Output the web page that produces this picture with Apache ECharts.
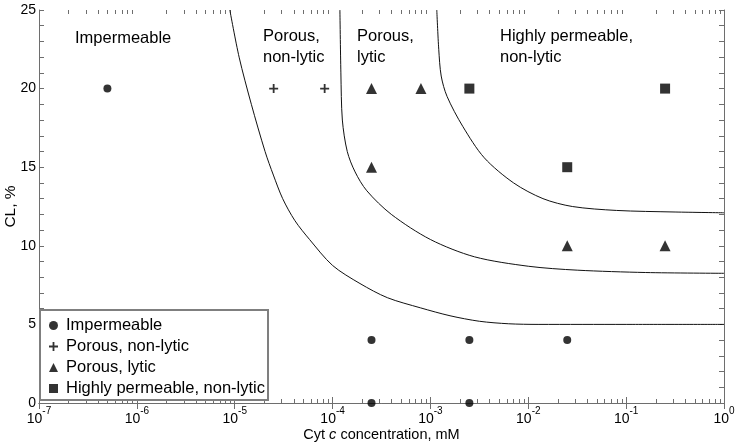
<!DOCTYPE html>
<html>
<head>
<meta charset="utf-8">
<script src="https://cdn.jsdelivr.net/npm/echarts@6/dist/echarts.min.js"></script>
<style>
html,body{margin:0;padding:0;background:#fff;}
#chart{width:739px;height:445px;}
</style>
</head>
<body>
<div id="chart"></div>
<script>
// measured points: [Cyt c concentration (mM), CL (%)]
var impermeable = [[5e-7,20],[2.5e-4,4],[2.5e-3,4],[2.5e-2,4],[2.5e-4,0],[2.5e-3,0]];
var porousNonLytic = [[2.5e-5,20],[8.3e-5,20]];
var porousLytic = [[2.5e-4,20],[8e-4,20],[2.5e-4,15],[2.5e-2,10],[2.5e-1,10]];
var highlyPermeable = [[2.5e-3,20],[2.5e-1,20],[2.5e-2,15]];

// boundary curves: [log10 of concentration, CL %]
var boundary1 = [[-5.05,25],[-4.955,22],[-4.83,19],[-4.69,16],[-4.605,14.5],[-4.51,13],[-4.385,11.6],[-4.235,10.4],[-4.0,8.75],[-3.72,7.6],[-3.44,6.7],[-3.1,6.05],[-2.8,5.55],[-2.5,5.2],[-2.2,5.04],[-1.9,5.0],[-1,5.0],[0,5.0]];
var boundary2 = [[-3.925,25],[-3.915,21],[-3.9,18],[-3.85,16],[-3.77,14.7],[-3.65,13.5],[-3.4,12],[-3.0,10.4],[-2.55,9.3],[-2.0,8.7],[-1.5,8.45],[-0.8,8.3],[0,8.25]];
var boundary3 = [[-2.935,25],[-2.915,22.5],[-2.89,20.8],[-2.83,19.5],[-2.67,17.6],[-2.45,15.6],[-2.15,14.0],[-1.85,13.0],[-1.55,12.5],[-1.1,12.25],[-0.5,12.15],[0,12.1]];

var legendNames = ['Impermeable','Porous, non-lytic','Porous, lytic','Highly permeable, non-lytic'];
var plusIcon = 'path://M4,0h2v4h4v2h-4v4h-2v-4h-4v-2h4z';

// minor log ticks 2..9 per decade
var minorTicks = [];
for (var e = -7; e < 0; e++) {
    for (var k = 2; k <= 9; k++) {
        minorTicks.push([k * Math.pow(10, e), 0]);
    }
}

function curve(arr){
    return arr.map(function(p){ return [Math.pow(10, p[0]), p[1]]; });
}
function lineSeries(arr){
    return {
        type: 'line',
        data: curve(arr),
        smooth: 0.3,
        showSymbol: false,
        silent: true,
        lineStyle: {color: '#111', width: 1},
        z: 3
    };
}

var axisColor = '#6e6e6e';
var font = 'Liberation Sans, Arial, sans-serif';
var myChart = echarts.init(document.getElementById('chart'));
var option = {
    animation: false,
    textStyle: {fontFamily: font},
    grid: {left: 39, right: 15, top: 10, bottom: 42, outerBoundsMode: 'none'},
    legend: {
        orient: 'vertical',
        left: 40,
        top: 310,
        data: [
            {name: legendNames[0], icon: 'circle'},
            {name: legendNames[1], icon: plusIcon},
            {name: legendNames[2], icon: 'triangle'},
            {name: legendNames[3], icon: 'rect'}
        ],
        itemWidth: 9,
        itemHeight: 9,
        itemGap: 4,
        padding: [7, 3, 3, 9],
        borderColor: '#7f7f7f',
        borderWidth: 2,
        backgroundColor: '#fff',
        textStyle: {fontSize: 16.5, lineHeight: 17, color: '#000', padding: [0,0,0,3]},
        selectedMode: false
    },
    xAxis: [{
        type: 'log',
        logBase: 10,
        min: 1e-7,
        max: 1,
        position: 'bottom',
        name: 'Cyt {i|c} concentration, mM',
        nameLocation: 'middle',
        nameGap: 24,
        nameMoveOverlap: false,
        nameTextStyle: {fontSize: 14.5, color: '#000', rich: {i: {fontSize: 14.5, fontStyle: 'italic', color: '#000'}}},
        axisLine: {lineStyle: {color: axisColor, width: 1}},
        axisTick: {inside: true, length: 6, lineStyle: {color: axisColor}},
        splitLine: {show: false},
        axisLabel: {
            margin: 3,
            showMinLabel: true,
            showMaxLabel: true,
            formatter: function(v){
                var ex = Math.round(Math.log10(v));
                return '{b|10}{s|' + ex + '}';
            },
            rich: {
                b: {fontSize: 14, color: '#000', lineHeight: 20, verticalAlign: 'bottom'},
                s: {fontSize: 10, color: '#000', lineHeight: 20, verticalAlign: 'top'}
            }
        }
    }, {
        type: 'log',
        logBase: 10,
        min: 1e-7,
        max: 1,
        position: 'top',
        axisLine: {lineStyle: {color: axisColor, width: 1}},
        axisTick: {inside: true, length: 6, lineStyle: {color: axisColor}},
        axisLabel: {show: false},
        splitLine: {show: false}
    }],
    yAxis: [{
        type: 'value',
        min: 0,
        max: 25,
        interval: 5,
        name: 'CL, %',
        nameLocation: 'middle',
        nameRotate: 90,
        nameGap: 20,
        nameMoveOverlap: false,
        nameTextStyle: {fontSize: 15.5, color: '#000'},
        axisLine: {show: true, lineStyle: {color: axisColor, width: 1}},
        axisTick: {show: true, inside: true, length: 5, lineStyle: {color: axisColor}},
        minorTick: {show: true, splitNumber: 5, length: 5, lineStyle: {color: axisColor}},
        splitLine: {show: false},
        axisLabel: {fontSize: 14, color: '#000', margin: 3, showMinLabel: true, showMaxLabel: true}
    }, {
        type: 'value',
        min: 0,
        max: 25,
        interval: 5,
        position: 'right',
        axisLine: {show: true, lineStyle: {color: axisColor, width: 1}},
        axisTick: {show: true, inside: true, length: 5, lineStyle: {color: axisColor}},
        minorTick: {show: true, splitNumber: 5, length: 5, lineStyle: {color: axisColor}},
        splitLine: {show: false},
        axisLabel: {show: false}
    }],
    graphic: [
        {type: 'text', left: 75, top: 30, style: {text: 'Impermeable', font: '16.5px ' + font, fill: '#000'}},
        {type: 'text', left: 263, top: 26, style: {text: 'Porous,\nnon-lytic', font: '16.5px ' + font, fill: '#000', lineHeight: 21}},
        {type: 'text', left: 357, top: 26, style: {text: 'Porous,\nlytic', font: '16.5px ' + font, fill: '#000', lineHeight: 21}},
        {type: 'text', left: 500, top: 26, style: {text: 'Highly permeable,\nnon-lytic', font: '16.5px ' + font, fill: '#000', lineHeight: 21}}
    ],
    series: [
        lineSeries(boundary1),
        lineSeries(boundary2),
        lineSeries(boundary3),
        {
            type: 'custom',
            silent: true,
            data: minorTicks,
            encode: {x: 0, y: 1},
            clip: false,
            renderItem: function(params, api){
                var v = api.value(0);
                var b = api.coord([v, 0]);
                var t = api.coord([v, 25]);
                var x = Math.round(b[0]) + 0.5;
                return {type: 'group', children: [
                    {type: 'line', shape: {x1: x, y1: b[1], x2: x, y2: b[1] - 4}, style: {stroke: axisColor, lineWidth: 1}},
                    {type: 'line', shape: {x1: x, y1: t[1], x2: x, y2: t[1] + 4}, style: {stroke: axisColor, lineWidth: 1}}
                ]};
            }
        },
        {name: legendNames[0], type: 'scatter', data: impermeable, symbol: 'circle', symbolSize: 8, itemStyle: {color: '#000'}, z: 5},
        {name: legendNames[1], type: 'scatter', data: porousNonLytic, symbol: plusIcon, symbolSize: 9, itemStyle: {color: '#000'}, z: 5},
        {name: legendNames[2], type: 'scatter', data: porousLytic, symbol: 'triangle', symbolSize: 11, itemStyle: {color: '#000'}, z: 5},
        {name: legendNames[3], type: 'scatter', data: highlyPermeable, symbol: 'rect', symbolSize: 10, itemStyle: {color: '#000'}, z: 5}
    ]
};
myChart.setOption(option);
</script>
</body>
</html>
